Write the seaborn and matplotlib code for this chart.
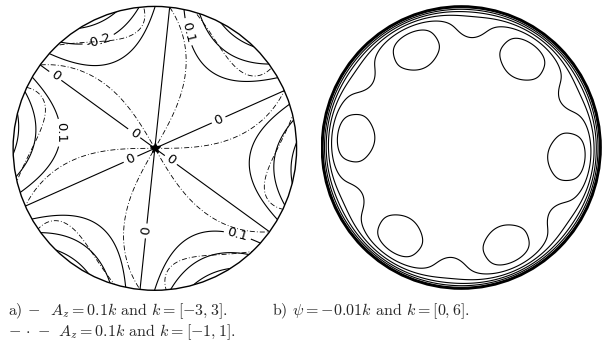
import numpy as np
import seaborn as sns
import matplotlib.pyplot as plt
from matplotlib.patches import Circle

# ---- panel a) : A_z contours (sextupole-like field) ----
az_levels_solid = [-0.3, -0.2, -0.1, 0.0, 0.1, 0.2, 0.3]   # 0.1k, k = -3..3
az_levels_labeled = [-0.2, 0.0, 0.1]
az_levels_dash = [-0.1, 0.0, 0.1]                           # 0.1k, k = -1..1
az_amp_solid = 0.33        # field amplitude at the wall
az_phase_solid = 54.0      # angle (deg) of a positive lobe
az_amp_dash = 0.19
az_phase_dash = 30.0       # lobe angle at the axis
az_twist_dash = 24.0       # extra rotation (deg) reached at the wall

# hand-placed contour label spots (x, y) in units of the wall radius
label_pos = [(-0.71, 0.50), (-0.15, 0.10), (-0.17, -0.08),
             (0.10, -0.10), (0.45, 0.20), (-0.08, -0.58),
             (-0.68, 0.11), (-0.40, 0.77), (0.23, 0.82), (0.58, -0.62)]
label_fmt = {-0.2: "-0.2", 0.0: "0", 0.1: "0.1"}

# ---- panel b) : psi contours ----
psi_levels = [-0.06, -0.05, -0.04, -0.03, -0.02, -0.01, 0.0]  # -0.01k, k = 0..6
psi_core = 0.057           # depth of the flat core
psi_edge_power = 22        # steepness of the edge layer
psi_dip = 0.0015           # extra depth on the island ring
psi_dip_r = 0.74
psi_dip_w = 0.08
psi_island_amp = 0.009     # m = 6 modulation
psi_island_r = 0.86
psi_island_w = 0.22
psi_island_phase = -5.0    # angle (deg) of one island
psi_m = 6

caption_a1 = r"a) $-$  $A_z = 0.1k$ and $k = [-3, 3]$."
caption_a2 = r"$-\,\cdot\,-$ $A_z = 0.1k$ and $k = [-1, 1]$."
caption_b = r"b) $\psi = -0.01k$ and $k = [0, 6]$."


def az_field(r, th, amp, phase, twist=0.0):
    return amp * r**3 * np.cos(3 * (th - np.radians(phase + twist * r**2)))


def psi_field(r, th):
    edge = 1 - r**psi_edge_power
    base = -psi_core * edge
    base -= psi_dip * np.exp(-((r - psi_dip_r) / psi_dip_w) ** 2)
    mod = psi_island_amp * np.exp(-((r - psi_island_r) / psi_island_w) ** 2) * edge**2
    return base - mod * np.cos(psi_m * (th - np.radians(psi_island_phase)))


def wall(ax, lw):
    c = Circle((0, 0), 1.0, transform=ax.transData, fill=False,
               edgecolor="black", linewidth=lw)
    ax.add_patch(c)
    return c


sns.set_theme(style="white")
plt.rcParams["font.family"] = ["DejaVu Sans"]
plt.rcParams["mathtext.fontset"] = "cm"

fig = plt.figure(figsize=(6.02, 3.48), dpi=100)
W, H = 602.0, 348.0
ax_a = fig.add_axes([11.7 / W, 1 - 291.7 / H, 286.3 / W, 286.7 / H])
ax_b = fig.add_axes([320.5 / W, 1 - 290 / H, 281.5 / W, 285 / H])

g = np.linspace(-1.05, 1.05, 901)
X, Y = np.meshgrid(g, g)
R = np.hypot(X, Y)
TH = np.arctan2(Y, X)

# a)
Za = az_field(R, TH, az_amp_solid, az_phase_solid)
Zd = az_field(R, TH, az_amp_dash, az_phase_dash, az_twist_dash)
clip_a = wall(ax_a, 1.0)
cs_d = ax_a.contour(X, Y, Zd, levels=az_levels_dash, colors="black",
                    linewidths=0.6, linestyles=[(0, (6, 2.5, 1, 2.5))])
plain = [v for v in az_levels_solid if v not in az_levels_labeled]
cs_s = ax_a.contour(X, Y, Za, levels=plain, colors="black",
                    linewidths=0.8, linestyles="solid")
cs_l = ax_a.contour(X, Y, Za, levels=az_levels_labeled, colors="black",
                    linewidths=0.8, linestyles="solid")
ax_a.clabel(cs_l, manual=label_pos, inline=True, inline_spacing=3,
            fontsize=9.5, fmt=label_fmt)
for cs in (cs_s, cs_l, cs_d):
    cs.set_clip_path(clip_a)
ax_a.plot([0], [0], marker="*", markersize=7, color="black")

# b)
Zp = psi_field(R, TH)
clip_b = wall(ax_b, 1.8)
cs_p = ax_b.contour(X, Y, Zp, levels=psi_levels, colors="black",
                    linewidths=0.8, linestyles="solid")
cs_p.set_clip_path(clip_b)

for ax in (ax_a, ax_b):
    ax.set_xlim(-1.01, 1.01)
    ax.set_ylim(-1.01, 1.01)
    ax.set_axis_off()

cap = dict(fontsize=11.5, va="center", ha="left", fontfamily=["cmr10", "DejaVu Serif"])
fig.text(8 / W, 1 - 311 / H, caption_a1, **cap)
fig.text(8 / W, 1 - 332 / H, caption_a2, **cap)
fig.text(272 / W, 1 - 311 / H, caption_b, **cap)

fig.savefig("out.png", dpi=100, facecolor="white")
